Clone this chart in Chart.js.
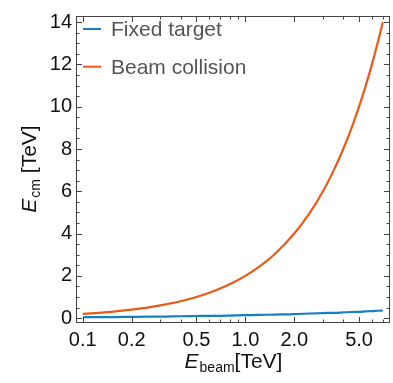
<!DOCTYPE html>
<html>
<head>
<meta charset="utf-8">
<script src="https://cdn.jsdelivr.net/npm/chart.js@4"></script>
<style>
  body { margin: 0; background: #fff; }
  canvas { display: block; }
</style>
</head>
<body>
<canvas id="c" width="393" height="383"></canvas>
<script>
// beam energy in TeV
let eBeam = [0.1, 0.12, 0.15, 0.2, 0.25, 0.3, 0.4, 0.5, 0.6, 0.7, 0.8, 1.0, 1.2, 1.5,
             2.0, 2.5, 3.0, 3.5, 4.0, 4.5, 5.0, 5.5, 6.0, 6.5, 7.0]
// centre of mass energy in TeV
let fixedTarget = [0.04, 0.05, 0.05, 0.06, 0.07, 0.07, 0.09, 0.10, 0.11, 0.11, 0.12, 0.14, 0.15, 0.17,
                   0.19, 0.22, 0.24, 0.25, 0.27, 0.29, 0.30, 0.32, 0.33, 0.35, 0.36]
let beamCollision = [0.2, 0.24, 0.3, 0.4, 0.5, 0.6, 0.8, 1.0, 1.2, 1.4, 1.6, 2.0, 2.4, 3.0,
                     4.0, 5.0, 6.0, 7.0, 8.0, 9.0, 10.0, 11.0, 12.0, 13.0, 14.0]
let seriesNames = ["Fixed target", "Beam collision"]
let seriesColors = ["#1680c4", "#e85a17"]

let xTicks = [0.1, 0.2, 0.5, 1.0, 2.0, 5.0]
let xMinor = [0.09, 0.3, 0.4, 0.6, 0.7, 0.8, 0.9, 3, 4, 6, 7]
let yTicks = [0, 2, 4, 6, 8, 10, 12, 14]

let fontName = "'Liberation Sans', Arial, sans-serif"
let frameColor = "#444"

function pts(xs, ys) {
    return xs.map((x, i) => ({x: x, y: ys[i]}))
}

let extras = {
    id: "extras",
    afterDraw(chart) {
        let ctx = chart.ctx
        let a = chart.chartArea
        let sx = chart.scales.x
        let sy = chart.scales.y
        ctx.save()

        // frame
        ctx.strokeStyle = frameColor
        ctx.lineWidth = 1
        ctx.strokeRect(a.left + 0.5, a.top + 0.5, a.right - a.left - 1, a.bottom - a.top - 1)

        // inward ticks on all four sides
        function xt(v, len) {
            let p = Math.round(sx.getPixelForValue(v)) + 0.5
            if (p < a.left || p > a.right) return
            ctx.beginPath()
            ctx.moveTo(p, a.bottom); ctx.lineTo(p, a.bottom - len)
            ctx.moveTo(p, a.top); ctx.lineTo(p, a.top + len)
            ctx.stroke()
        }
        function yt(v, len) {
            let p = Math.round(sy.getPixelForValue(v)) + 0.5
            if (p < a.top || p > a.bottom) return
            ctx.beginPath()
            ctx.moveTo(a.left, p); ctx.lineTo(a.left + len, p)
            ctx.moveTo(a.right, p); ctx.lineTo(a.right - len, p)
            ctx.stroke()
        }
        xTicks.forEach(v => xt(v, 6))
        xMinor.forEach(v => xt(v, 3.5))
        yTicks.forEach(v => yt(v, 6))
        for (let v = 0.5; v < 14.3; v += 0.5) {
            if (v % 2 != 0) yt(v, 3.5)
        }

        // legend
        ctx.textBaseline = "alphabetic"
        ctx.textAlign = "left"
        ctx.font = "21px " + fontName
        for (let i = 0; i < seriesNames.length; i++) {
            let y = 29 + i * 37.7
            ctx.strokeStyle = seriesColors[i]
            ctx.lineWidth = 2
            ctx.beginPath()
            ctx.moveTo(83, y); ctx.lineTo(101, y)
            ctx.stroke()
            ctx.fillStyle = "#555"
            ctx.fillText(seriesNames[i], 111, y + 7.3)
        }

        // axis titles with subscripts
        function title(sub, rest, cx, cy, rot) {
            ctx.save()
            ctx.translate(cx, cy)
            ctx.rotate(rot)
            ctx.fillStyle = "#111"
            ctx.font = "italic 21px " + fontName
            let w1 = ctx.measureText("E").width
            ctx.font = "14px " + fontName
            let w2 = ctx.measureText(sub).width
            ctx.font = "21px " + fontName
            let w3 = ctx.measureText(rest).width
            let x = -(w1 + w2 + w3) / 2
            ctx.font = "italic 21px " + fontName
            ctx.fillText("E", x, 0)
            ctx.font = "14px " + fontName
            ctx.fillText(sub, x + w1 + 1, 4)
            ctx.font = "21px " + fontName
            ctx.fillText(rest, x + w1 + w2 + 1, 0)
            ctx.restore()
        }
        title("beam", "[TeV]", (a.left + a.right) / 2, 368, 0)
        title("cm", " [TeV]", 36, (a.top + a.bottom) / 2, -Math.PI / 2)

        ctx.restore()
    }
}

new Chart(document.getElementById("c"), {
    type: "line",
    data: {
        datasets: [
            {label: seriesNames[0], data: pts(eBeam, fixedTarget), borderColor: seriesColors[0],
             borderWidth: 2.2, pointRadius: 0, cubicInterpolationMode: "monotone"},
            {label: seriesNames[1], data: pts(eBeam, beamCollision), borderColor: seriesColors[1],
             borderWidth: 2.2, pointRadius: 0, cubicInterpolationMode: "monotone"}
        ]
    },
    options: {
        responsive: false,
        animation: false,
        devicePixelRatio: 1,
        layout: {padding: {top: 9, right: 3, left: 0, bottom: 0}},
        plugins: {legend: {display: false}, tooltip: {enabled: false}},
        scales: {
            x: {
                type: "logarithmic",
                min: 0.0909,
                max: 7.75,
                grid: {display: false, drawTicks: false},
                border: {display: false},
                afterBuildTicks: s => { s.ticks = xTicks.map(v => ({value: v})) },
                afterFit: s => { s.height = 60 },
                ticks: {
                    autoSkip: false,
                    maxRotation: 0,
                    padding: 5,
                    color: "#111",
                    font: {family: fontName, size: 20},
                    callback: v => v.toFixed(1)
                }
            },
            y: {
                min: -0.23,
                max: 14.29,
                grid: {display: false, drawTicks: false},
                border: {display: false},
                afterBuildTicks: s => { s.ticks = yTicks.map(v => ({value: v})) },
                afterFit: s => { s.width = 76 },
                ticks: {
                    padding: 4,
                    color: "#111",
                    font: {family: fontName, size: 20}
                }
            }
        }
    },
    plugins: [extras]
})
</script>
</body>
</html>
